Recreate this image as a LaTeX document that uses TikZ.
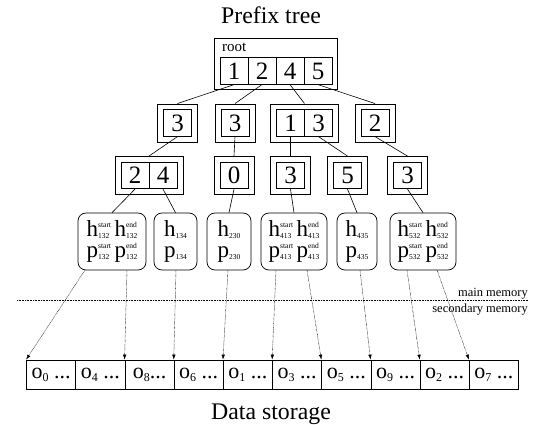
\documentclass[tikz,border=0pt]{standalone}
\usepackage{fontspec}
\setmainfont{Liberation Serif}
\usetikzlibrary{fit,arrows.meta}
\newcommand\supsub[2]{\raisebox{-1.2pt}{\fontsize{7.5}{10.5}\selectfont\begin{tabular}[b]{@{}l@{}}#1\\#2\end{tabular}}}
\newcommand\osub[1]{\raisebox{-3pt}{\fontsize{12}{12}\selectfont #1}}
\tikzset{
  cell/.style={draw, minimum width=28pt, minimum height=26.5pt, inner sep=0pt, font=\fontsize{25}{25}\selectfont, line width=0.7pt},
  outerbox/.style={draw, inner sep=5.5pt, line width=0.7pt},
  leaf/.style={draw, rounded corners=8pt, minimum height=57pt, inner sep=0pt, align=center, font=\fontsize{23}{21}\selectfont, line width=0.7pt},
  edge/.style={line width=0.6pt},
  ptr/.style={line width=0.45pt, dash pattern=on 0.6pt off 0.7pt, -{Latex[length=5pt,width=3.5pt]}},
  store/.style={draw, minimum width=49.2pt, minimum height=29pt, inner sep=0pt, font=\fontsize{22}{22}\selectfont, line width=0.7pt},
  sepline/.style={line width=0.6pt, dash pattern=on 0.8pt off 0.8pt},
  title/.style={anchor=base, inner sep=0pt, font=\fontsize{23.8}{24}\selectfont},
  memlbl/.style={anchor=base east, inner sep=0pt, font=\fontsize{12.5}{13}\selectfont},
}
\begin{document}
\begin{tikzpicture}[x=1pt, y=-1pt]
\useasboundingbox (0,0) rectangle (536,425);
% titles
\node[title] (ttop) at (271,23.3) {Prefix tree};
\node[title] (tbot) at (271,419.5) {Data storage};
% root
\node[anchor=base west, inner sep=0pt, font=\fontsize{15}{15}\selectfont] (rl) at (222,52) {root};
\node[cell] (r1) at (234,71) {1};
\node[cell] (r2) at (262,71) {2};
\node[cell] (r4) at (290,71) {4};
\node[cell] (r5) at (318,71) {5};
\node[outerbox, inner sep=5pt, fit=(rl)(r1)(r5)] (R) {};
% level 1
\node[cell] (a) at (177.5,123) {3};
\node[outerbox, fit=(a)] (A) {};
\node[cell] (b) at (235,123) {3};
\node[outerbox, fit=(b)] (B) {};
\node[cell] (c1) at (290.5,123) {1};
\node[cell] (c3) at (318.5,123) {3};
\node[outerbox, fit=(c1)(c3)] (C) {};
\node[cell] (d) at (375,123) {2};
\node[outerbox, fit=(d)] (D) {};
% level 2
\node[cell] (e2) at (135,175.5) {2};
\node[cell] (e4) at (163,175.5) {4};
\node[outerbox, fit=(e2)(e4)] (E) {};
\node[cell] (f) at (234,175.5) {0};
\node[outerbox, fit=(f)] (F) {};
\node[cell] (g) at (290.5,175.5) {3};
\node[outerbox, fit=(g)] (G) {};
\node[cell] (hh) at (347.5,175.5) {5};
\node[outerbox, fit=(hh)] (H) {};
\node[cell] (ii) at (407.5,175.5) {3};
\node[outerbox, fit=(ii)] (I) {};
% leaves
\node[leaf, minimum width=68pt] (l1) at (112,241.5) {h\supsub{start}{132}\hspace{3.5pt}h\supsub{end}{132}\\p\supsub{start}{132}\hspace{3.5pt}p\supsub{end}{132}};
\node[leaf, minimum width=43pt] (l2) at (175.5,241.5) {h\supsub{}{134}\\p\supsub{}{134}};
\node[leaf, minimum width=44pt] (l3) at (229,241.5) {h\supsub{}{230}\\p\supsub{}{230}};
\node[leaf, minimum width=66pt] (l4) at (294,241.5) {h\supsub{start}{413}\hspace{3.5pt}h\supsub{end}{413}\\p\supsub{start}{413}\hspace{3.5pt}p\supsub{end}{413}};
\node[leaf, minimum width=40pt] (l5) at (357,241.5) {h\supsub{}{435}\\p\supsub{}{435}};
\node[leaf, minimum width=66pt] (l6) at (423,241.5) {h\supsub{start}{532}\hspace{3.5pt}h\supsub{end}{532}\\p\supsub{start}{532}\hspace{3.5pt}p\supsub{end}{532}};
% tree edges
\draw[edge] (r1.south) -- (A.north);
\draw[edge] (r2.south) -- (B.north);
\draw[edge] (r4.south) -- (C.north);
\draw[edge] (r5.south) -- (D.north);
\draw[edge] (a.south) -- (E.north);
\draw[edge] (b.south) -- (F.north);
\draw[edge] (c1.south) -- (G.north);
\draw[edge] (c3.south) -- (H.north);
\draw[edge] (d.south) -- (I.north);
\draw[edge] (e2.south) -- (l1.north);
\draw[edge] (e4.south) -- (l2.north);
\draw[edge] (f.south) -- (l3.north);
\draw[edge] (g.south) -- (l4.north);
\draw[edge] (hh.south) -- (l5.north);
\draw[edge] (ii.south) -- (l6.north);
% memory separator
\coordinate (sepL) at (17,300.7);
\coordinate (sepR) at (528,300.7);
\draw[sepline] (sepL) -- (sepR);
\node[memlbl] (mm) at (528,296) {main memory};
\node[memlbl] (sm) at (528,312.7) {secondary memory};
% data storage
\node[store] (s0) at (51.1,374.5) {o\osub{0} ...};
\node[store] (s1) at (100.3,374.5) {o\osub{4} ...};
\node[store] (s2) at (149.5,374.5) {o\osub{8}...};
\node[store] (s3) at (198.7,374.5) {o\osub{6} ...};
\node[store] (s4) at (247.9,374.5) {o\osub{1} ...};
\node[store] (s5) at (297.1,374.5) {o\osub{3} ...};
\node[store] (s6) at (346.3,374.5) {o\osub{5} ...};
\node[store] (s7) at (395.5,374.5) {o\osub{9} ...};
\node[store] (s8) at (444.7,374.5) {o\osub{2} ...};
\node[store] (s9) at (493.9,374.5) {o\osub{7} ...};
% pointers
\coordinate (p1) at (85,270);
\coordinate (p2) at (127,270);
\coordinate (p3) at (176,270);
\coordinate (p4) at (228,270);
\coordinate (p5) at (276,270);
\coordinate (p6) at (307,270);
\coordinate (p7) at (360,270);
\coordinate (p8) at (407,270);
\coordinate (p9) at (437,270);
\draw[ptr] (p1) -- (s0.north west);
\draw[ptr] (p2) -- (s2.north west);
\draw[ptr] (p3) -- (s3.north west);
\draw[ptr] (p4) -- (s4.north west);
\draw[ptr] (p5) -- (s5.north west);
\draw[ptr] (p6) -- (s6.north west);
\draw[ptr] (p7) -- (s7.north west);
\draw[ptr] (p8) -- (s8.north west);
\draw[ptr] (p9) -- (s9.north west);
\end{tikzpicture}
\end{document}
